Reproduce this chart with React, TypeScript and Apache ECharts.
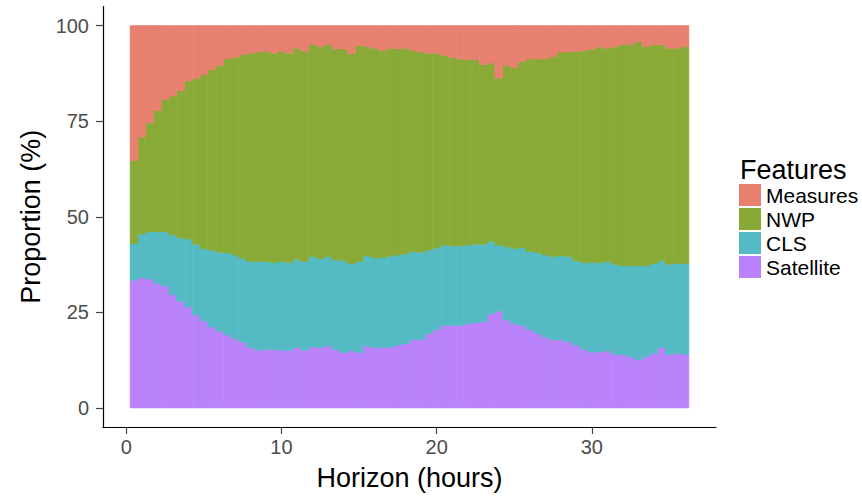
import React, { useEffect, useRef } from "react";
import * as echarts from "echarts";

const horizons = [
  0.5, 1, 1.5, 2, 2.5, 3, 3.5, 4, 4.5, 5, 5.5, 6, 6.5, 7, 7.5, 8, 8.5, 9,
  9.5, 10, 10.5, 11, 11.5, 12, 12.5, 13, 13.5, 14, 14.5, 15, 15.5, 16, 16.5, 17, 17.5, 18,
  18.5, 19, 19.5, 20, 20.5, 21, 21.5, 22, 22.5, 23, 23.5, 24, 24.5, 25, 25.5, 26, 26.5, 27,
  27.5, 28, 28.5, 29, 29.5, 30, 30.5, 31, 31.5, 32, 32.5, 33, 33.5, 34, 34.5, 35, 35.5, 36,
];

const satellite = [
  33.4, 34.1, 33.7, 32.6, 31.9, 29.6, 27.9, 26.4, 24.3, 22.7, 21.2, 20.1, 19.1, 18.1, 17.2, 15.8, 15.1, 15.3,
  15.3, 15.1, 15.1, 15.9, 15.1, 15.9, 15.8, 16.2, 15.3, 14.5, 14.9, 14.5, 16.2, 15.8, 15.8, 15.9, 16.4, 16.8,
  17.9, 17.9, 19.4, 20.5, 21.6, 21.6, 21.6, 22.0, 22.3, 22.5, 24.6, 25.3, 23.0, 22.0, 21.6, 20.5, 19.5, 18.5,
  17.8, 17.8, 17.3, 16.4, 15.3, 14.6, 14.6, 14.9, 14.0, 13.9, 13.4, 12.6, 13.4, 14.3, 15.8, 14.0, 14.3, 14.0,
];

const cls = [
  9.6, 11.4, 12.4, 13.5, 14.2, 15.6, 16.6, 17.8, 18.5, 19.0, 20.1, 20.6, 21.5, 21.9, 21.9, 22.5, 23.2, 23.0,
  22.7, 23.2, 22.9, 23.0, 23.2, 23.7, 23.2, 23.4, 23.4, 24.0, 22.9, 23.8, 23.6, 23.5, 23.5, 23.8, 23.6, 23.5,
  23.0, 22.8, 21.9, 21.4, 21.0, 20.8, 20.8, 20.6, 20.5, 20.3, 19.0, 17.3, 19.2, 19.7, 20.3, 20.5, 21.1, 21.5,
  21.8, 22.0, 22.3, 22.1, 22.7, 23.4, 23.4, 23.4, 23.6, 23.3, 23.8, 24.6, 23.8, 23.5, 22.7, 23.6, 23.5, 23.8,
];

const nwp = [
  21.7, 25.4, 28.5, 31.7, 34.6, 36.4, 38.5, 41.3, 43.4, 45.5, 47.2, 48.9, 50.7, 51.7, 53.3, 54.5, 54.8, 55.0,
  54.8, 54.9, 54.8, 55.2, 55.0, 55.5, 55.5, 55.5, 55.2, 55.4, 54.8, 56.5, 54.7, 54.8, 54.2, 54.4, 53.9, 53.8,
  52.6, 52.4, 51.5, 50.9, 49.6, 49.3, 48.9, 48.5, 48.3, 47.0, 46.6, 43.7, 47.4, 47.4, 48.7, 50.3, 50.7, 51.3,
  52.3, 53.3, 53.5, 54.8, 55.5, 55.9, 56.4, 55.8, 56.9, 57.9, 57.9, 58.6, 57.3, 57.2, 56.5, 56.5, 56.3, 56.7,
];

const measures = [
  35.3, 29.1, 25.4, 22.2, 19.3, 18.4, 17.0, 14.5, 13.8, 12.8, 11.5, 10.4, 8.7, 8.3, 7.6, 7.2, 6.9, 6.7,
  7.2, 6.8, 7.2, 5.9, 6.7, 4.9, 5.5, 4.9, 6.1, 6.1, 7.4, 5.2, 5.5, 5.9, 6.5, 5.9, 6.1, 5.9,
  6.5, 6.9, 7.2, 7.2, 7.8, 8.3, 8.7, 8.9, 8.9, 10.2, 9.8, 13.7, 10.4, 10.9, 9.4, 8.7, 8.7, 8.7,
  8.1, 6.9, 6.9, 6.7, 6.5, 6.1, 5.6, 5.9, 5.5, 4.9, 4.9, 4.2, 5.5, 5.0, 5.0, 5.9, 5.9, 5.5,
];

const xTicks = [0, 10, 20, 30];
const yTicks = [0, 25, 50, 75, 100];
const legendOrder = ["Measures", "NWP", "CLS", "Satellite"];
const BAR_WIDTH = 0.5; // hours, one horizon step

const FONT = "'Liberation Sans', Arial, Helvetica, sans-serif";

// stacking order: first at the bottom
const seriesDefs = [
  { name: "Satellite", values: satellite, color: "#B982FA" },
  { name: "CLS", values: cls, color: "#54BBC4" },
  { name: "NWP", values: nwp, color: "#8AAA37" },
  { name: "Measures", values: measures, color: "#E88070" },
];

function buildStackedSeries() {
  const base = horizons.map(() => 0);
  return seriesDefs.map((s) => {
    const data = horizons.map((h, i) => {
      const lo = base[i];
      const hi = lo + s.values[i];
      base[i] = hi;
      return [h, lo, hi];
    });
    return {
      name: s.name,
      type: "custom",
      itemStyle: { color: s.color },
      encode: { x: 0, y: [1, 2] },
      data,
      renderItem: (_params: any, api: any) => {
        const x = api.value(0);
        const lo = api.value(1);
        const hi = api.value(2);
        const p0 = api.coord([x - BAR_WIDTH / 2, hi]);
        const p1 = api.coord([x + BAR_WIDTH / 2, lo]);
        return {
          type: "rect",
          shape: {
            x: p0[0],
            y: p0[1],
            width: p1[0] - p0[0],
            height: p1[1] - p0[1],
          },
          style: { fill: s.color, stroke: s.color, lineWidth: 0.7 },
        };
      },
    };
  });
}

export default function App() {
  const ref = useRef<HTMLDivElement>(null);

  useEffect(() => {
    if (!ref.current) return;
    const chart = echarts.init(ref.current, null, { renderer: "svg" });
    chart.setOption({
      animation: false,
      backgroundColor: "#ffffff",
      textStyle: { fontFamily: FONT },
      grid: { left: 103, right: 146, top: 6.5, bottom: 67, containLabel: false },
      xAxis: {
        type: "value",
        min: -1.5,
        max: 38,
        name: "Horizon (hours)",
        nameLocation: "middle",
        nameGap: 37,
        nameTextStyle: { fontSize: 27, color: "#000", fontFamily: FONT },
        axisLine: { show: true, onZero: false, lineStyle: { color: "#000", width: 1.2 } },
        axisTick: { show: true, length: 7, customValues: xTicks, lineStyle: { color: "#444", width: 1.2 } },
        axisLabel: { customValues: xTicks, fontSize: 20, color: "#4D4D4D", margin: 10, fontFamily: FONT },
        splitLine: { show: false },
      },
      yAxis: {
        type: "value",
        min: -5,
        max: 105,
        name: "Proportion (%)",
        nameLocation: "middle",
        nameGap: 58,
        nameTextStyle: { fontSize: 27, color: "#000", fontFamily: FONT },
        axisLine: { show: true, onZero: false, lineStyle: { color: "#000", width: 1.2 } },
        axisTick: { show: true, length: 7, customValues: yTicks, lineStyle: { color: "#444", width: 1.2 } },
        axisLabel: { customValues: yTicks, fontSize: 20, color: "#4D4D4D", margin: 14, fontFamily: FONT },
        splitLine: { show: false },
      },
      legend: {
        data: legendOrder,
        orient: "vertical",
        left: 739,
        top: 184,
        padding: 0,
        itemWidth: 22,
        itemHeight: 22,
        itemGap: 2,
        icon: "rect",
        textStyle: { fontSize: 21, color: "#000", fontFamily: FONT },
        selectedMode: false,
      },
      graphic: [
        {
          type: "text",
          left: 740,
          top: 156,
          style: { text: "Features", fontSize: 27, fill: "#000", fontFamily: FONT },
        },
      ],
      series: buildStackedSeries(),
    });
    return () => chart.dispose();
  }, []);

  return (
    <div
      ref={ref}
      style={{ position: "fixed", left: 0, top: 0, width: 862, height: 496 }}
    />
  );
}
